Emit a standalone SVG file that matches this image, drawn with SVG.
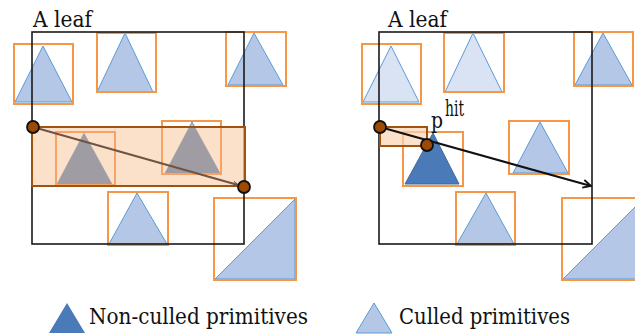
<svg xmlns="http://www.w3.org/2000/svg" width="635" height="334" viewBox="0 0 635 334">
  <style>
    .leaf { fill: none; stroke: #1a1a1a; stroke-width: 1.6; }
    .box { fill: none; stroke: #F79646; stroke-width: 2; }
    .box-dim { fill: none; stroke: #F8A265; stroke-width: 2; }
    .tri { fill: #B4C7E7; stroke: #5B9BD5; stroke-width: 1; }
    .light { fill: #DAE3F3; stroke: #5B9BD5; stroke-width: 1; }
    .dark { fill: #4A7AB8; stroke: #41689C; stroke-width: 1; }
    .grey { fill: #A09CA4; stroke: none; }
    .raybox { fill: #FAD3B4; fill-opacity: 0.7; stroke: #A0520F; stroke-width: 2; }
    .pt { fill: #9C4A06; stroke: #111; stroke-width: 1.8; }
    .label { font-family: "DejaVu Serif", serif; font-size: 22px; fill: #111; }
  </style>
  <defs>
    <marker id="headBrown" viewBox="0 0 10 10" refX="9" refY="5" markerWidth="6" markerHeight="6" orient="auto" markerUnits="userSpaceOnUse">
      <path d="M1,1 L9,5 L1,9" fill="none" stroke="#6E5442" stroke-width="1.6"/>
    </marker>
    <marker id="headBlack" viewBox="0 0 10 10" refX="9" refY="5" markerWidth="10" markerHeight="10" orient="auto" markerUnits="userSpaceOnUse">
      <path d="M1,1 L9,5 L1,9" fill="none" stroke="#111" stroke-width="1.8"/>
    </marker>
    <clipPath id="rayClipL">
      <rect x="32" y="127" width="213" height="59"/>
    </clipPath>
  </defs>

  <!-- Left panel: leaf with the full ray box -->
  <g id="left-panel">
    <text class="label" x="33" y="27" textLength="59" lengthAdjust="spacingAndGlyphs">A leaf</text>

    <g id="L-prim-tl">
      <polygon class="tri" points="43,46 15,102 72,102"/>
      <rect class="box" x="14" y="44" width="59" height="60"/>
    </g>
    <g id="L-prim-tm">
      <polygon class="tri" points="125,33 97,92 153,92"/>
      <rect class="box" x="97" y="33" width="59" height="59"/>
    </g>
    <g id="L-prim-tr">
      <polygon class="tri" points="254,33 228,85 283,85"/>
      <rect class="box" x="226" y="32" width="60" height="54"/>
    </g>
    <g id="L-prim-ml">
      <polygon class="tri" points="84,133 57,184 112,184"/>
      <rect class="box" x="56" y="132" width="59" height="53"/>
    </g>
    <g id="L-prim-mr">
      <polygon class="tri" points="192,122 165,173 220,173"/>
      <rect class="box" x="162" y="121" width="59" height="53"/>
    </g>
    <g id="L-prim-bm">
      <polygon class="tri" points="137,193 109,244 167,244"/>
      <rect class="box" x="108" y="192" width="60" height="53"/>
    </g>
    <g id="L-prim-br">
      <polygon class="tri" points="215,279 295,199 295,279"/>
      <rect class="box" x="214" y="198" width="82" height="82"/>
    </g>

    <rect id="L-leaf" class="leaf" x="32" y="32" width="212" height="212"/>

    <g id="L-ray-box">
      <rect class="raybox" x="32" y="127" width="213" height="59"/>
      <g clip-path="url(#rayClipL)">
        <polygon class="grey" points="84,133 57,184 112,184"/>
        <polygon class="grey" points="192,122 165,173 220,173"/>
        <rect class="box-dim" x="56" y="132" width="59" height="53"/>
        <rect class="box-dim" x="162" y="121" width="59" height="53"/>
      </g>
      <rect x="32" y="127" width="213" height="59" fill="none" stroke="#A0520F" stroke-width="2"/>
    </g>
  </g>

  <!-- Right panel: leaf with the ray stopped at the hit point -->
  <g id="right-panel">
    <text class="label" x="388" y="27" textLength="59" lengthAdjust="spacingAndGlyphs">A leaf</text>

    <g id="R-prim-tl">
      <polygon class="light" points="391,46 363,102 419,102"/>
      <rect class="box" x="362" y="44" width="59" height="60"/>
    </g>
    <g id="R-prim-tm">
      <polygon class="light" points="473,33 445,92 502,92"/>
      <rect class="box" x="444" y="33" width="60" height="59"/>
    </g>
    <g id="R-prim-tr">
      <polygon class="tri" points="603,33 575,85 632,85"/>
      <rect class="box" x="574" y="32" width="59" height="54"/>
    </g>
    <g id="R-prim-mr">
      <polygon class="tri" points="540,122 513,173 568,173"/>
      <rect class="box" x="509" y="121" width="60" height="53"/>
    </g>
    <g id="R-prim-bm">
      <polygon class="tri" points="486,193 457,244 514,244"/>
      <rect class="box" x="456" y="192" width="59" height="53"/>
    </g>
    <g id="R-prim-br">
      <polygon class="tri" points="563,279 643,199 643,279"/>
      <rect class="box" x="562" y="198" width="82" height="82"/>
    </g>

    <rect id="R-leaf" class="leaf" x="379" y="32" width="213" height="212"/>

    <g id="R-prim-hit">
      <polygon class="dark" points="433,133 405,184 459,184"/>
      <rect class="box" x="403" y="132" width="60" height="54"/>
    </g>
    <rect id="R-ray-box" class="raybox" x="380" y="127" width="47" height="19"/>

    <text class="label" x="431" y="128" textLength="12" lengthAdjust="spacingAndGlyphs">p</text>
    <text class="label" x="445" y="116" font-size="14" textLength="19" lengthAdjust="spacingAndGlyphs">hit</text>
  </g>

  <!-- Rays and their end points -->
  <g id="connectors">
    <line x1="33" y1="127" x2="238" y2="185" stroke="#6E5442" stroke-width="2" marker-end="url(#headBrown)"/>
    <line x1="380" y1="127" x2="591" y2="186" stroke="#111" stroke-width="2.2" marker-end="url(#headBlack)"/>
  </g>

  <g id="points">
    <circle class="pt" cx="33" cy="127" r="6"/>
    <circle class="pt" cx="244" cy="187" r="6"/>
    <circle class="pt" cx="380" cy="127" r="6"/>
    <circle class="pt" cx="427" cy="145" r="6"/>
  </g>

  <!-- Legend -->
  <g id="legend-nonculled">
    <polygon points="67,303 49,333 85,333" fill="#4A7AB8"/>
    <text class="label" x="89" y="324" textLength="219" lengthAdjust="spacingAndGlyphs">Non-culled primitives</text>
  </g>
  <g id="legend-culled">
    <polygon points="374,303 356,333 392,333" fill="#B4C7E7" stroke="#5B9BD5" stroke-width="1"/>
    <text class="label" x="399" y="324" textLength="171" lengthAdjust="spacingAndGlyphs">Culled primitives</text>
  </g>
</svg>
